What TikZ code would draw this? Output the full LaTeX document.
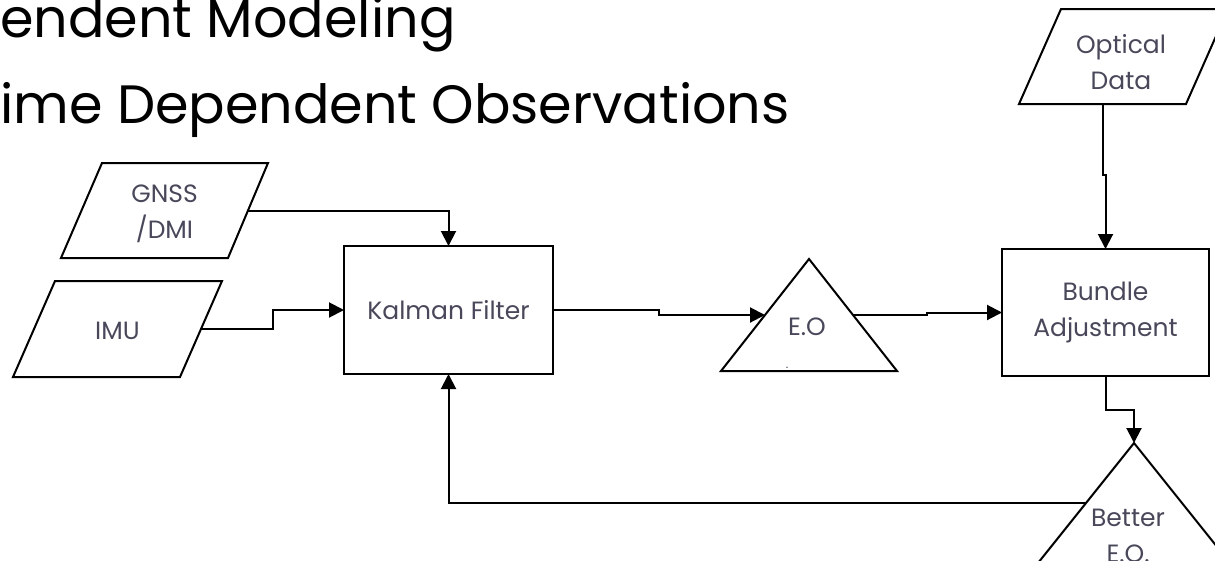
\documentclass[tikz,border=0pt]{standalone}
\usepackage{fontspec}
\setmainfont{Poppins}
\usetikzlibrary{arrows.meta,calc}
\definecolor{lbl}{RGB}{72,72,90}
\tikzset{
  outline/.style={draw=black,line width=2pt,line join=miter},
  box/.style={outline,rectangle,inner sep=0pt,outer sep=0pt,align=center,text=lbl,font=\fontsize{25}{36}\selectfont},
  lab/.style={inner sep=0pt,align=center,text=lbl,font=\fontsize{25}{36}\selectfont},
  conn/.style={draw=black,line width=2pt},
  arr/.style={conn,-{Triangle[length=15pt,width=15pt]}},
  title/.style={inner sep=0pt,anchor=base west,text=black,font=\fontsize{54}{60}\selectfont}
}
\begin{document}
\begin{tikzpicture}[x=1pt,y=-1pt]
\useasboundingbox (0,0) rectangle (1215,560);
\clip (0,0) rectangle (1215,560);
% titles
\node[title] (t1) at (0,37) {endent Modeling};
\node[title] (t2) at (0,123) {ime Dependent Observations};
% GNSS/DMI
\draw[outline] (102,163) -- (268,163) -- (228,258) -- (61,258) -- cycle;
\node[lab] (gnss) at (164.5,214) {GNSS\\/DMI};
\coordinate (gnssE) at (248,210.5);
% IMU
\draw[outline] (55,281) -- (222,281) -- (180,377) -- (13,377) -- cycle;
\node[lab] (imu) at (117.5,331) {IMU};
\coordinate (imuE) at (201,329);
% Kalman
\node[box,minimum width=209pt,minimum height=128pt] (kalman) at (448.5,310) {Kalman Filter};
% E.O triangle
\draw[outline] (809,259) -- (897,371) -- (721,371) -- cycle;
\node[lab] (eo) at (807,327) {E.O};
\node[lab,font=\fontsize{12}{12}\selectfont] (eodot) at (787,368) {.};
\coordinate (eoW) at (765,315);
\coordinate (eoE) at (853,315);
% Optical Data
\draw[outline] (1061,9) -- (1228,9) -- (1186,104) -- (1019,104) -- cycle;
\node[lab] (opt) at (1121,62) {Optical\\Data};
\coordinate (optS) at (1103,104);
% Bundle
\node[box,minimum width=207pt,minimum height=127pt] (bundle) at (1105.5,312.5) {Bundle\\Adjustment};
% Better E.O.
\draw[outline] (1134,443) -- (1278,623) -- (990,623) -- cycle;
\node[lab] (better) at (1128,536) {Better\\E.O.};
\coordinate (betterN) at (1134,443);
\coordinate (betterW) at (1086,503);
% connectors
\draw[arr] (gnssE) -| (kalman.north);
\draw[arr] (imuE) -- ++(72,0) |- (kalman.west);
\draw[arr] (kalman.east) -- (659,310) -- (659,315) -- (eoW);
\draw[arr] (eoE) -- (927,315) -- (927,312.5) -- (bundle.west);
\draw[arr] (optS) -- (1103,175) -- (1105.5,175) -- (bundle.north);
\draw[arr] (bundle.south) -- (1105.5,410) -| (betterN);
\draw[arr] (betterW) -| (kalman.south);
\end{tikzpicture}
\end{document}
